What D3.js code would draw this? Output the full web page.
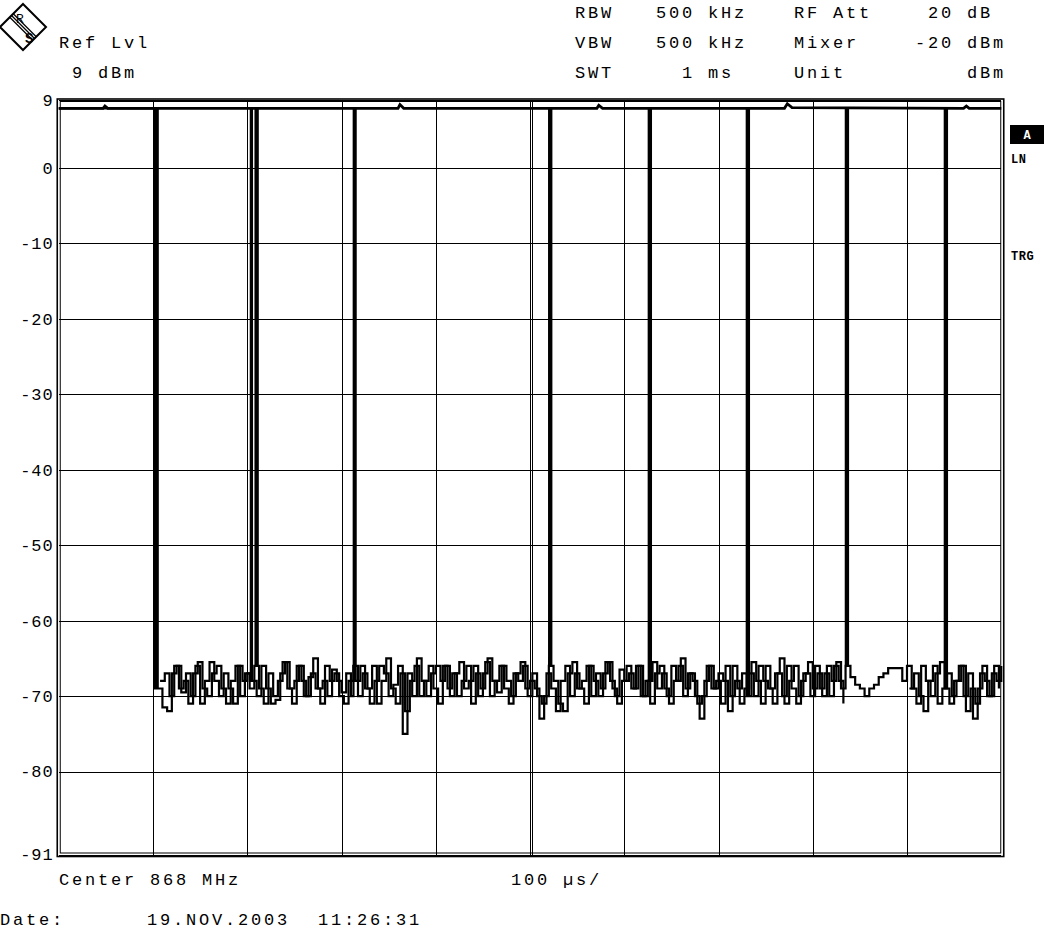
<!DOCTYPE html>
<html>
<head>
<meta charset="utf-8">
<script src="https://cdn.jsdelivr.net/npm/d3@7"></script>
<style>
  body { margin: 0; background: #fff; }
  text { font-family: "Liberation Mono", monospace; fill: #000; white-space: pre; }
</style>
</head>
<body>
<div id="chart"></div>
<script>
// level axis (dBm) and time grid (us)
const yTicks = [9, 0, -10, -20, -30, -40, -50, -60, -70, -80, -91];
const xGridTimes = [100, 200, 300, 400, 500, 600, 700, 800, 900];

// upper trace, held near the reference level
const topTimes = [0, 47, 49, 52, 360, 362, 366, 571, 573, 577, 770, 773, 778, 960, 963, 966, 1000];
const topValues = [7.9, 7.9, 8.2, 7.9, 7.9, 8.4, 7.9, 7.9, 8.3, 7.9, 7.9, 8.5, 8.0, 7.9, 8.2, 7.9, 7.9];

// burst edges (us) seen as narrow spikes in the lower trace
const pulseTimes = [102.7, 203.5, 312.7, 520, 625.7, 729.7, 834.8, 939.8];
const pulseTimesB = [208.5];
const pulseLevel = 7.9;

// noise floor, trace A: 105 us .. 1000 us, every 5 us
const noiseStartA = 105;
const noiseA = [
  -69, -71.5, -72, -67, -66, -69.5, -67, -70, -66, -71, -68, -65.5, -68, -70, -67, -69, -71, -66, -68, -67,
  -68, -70, -66, -69, -71, -70.5, -67, -65.5, -69, -68, -66, -70, -67.5, -65, -69, -68, -70, -66.5, -68, -69.5,
  -67, -70, -68, -66, -69, -71, -68, -66, -67, -70, -68.5, -66, -75, -67, -70, -65, -68, -70, -67, -66,
  -68, -66, -70, -67, -65.5, -69, -68, -66, -70, -67, -65, -68, -69.5, -66, -68, -70, -67, -65.5, -69, -68,
  -69, -73, -70, -66, -68, -71, -72, -67, -65.5, -69, -68, -66, -70, -67, -69, -65.5, -68, -70, -66.5, -68,
  -67, -69, -66, -70, -68, -65.5, -69, -67, -70, -66, -68, -65, -69, -67, -70, -73, -68, -66, -69, -67,
  -68, -72, -66, -69, -67, -70, -65.5, -68, -71, -66, -69, -67, -65, -71, -68, -66, -70, -67, -65.5, -69,
  -67, -70, -66, -68, -65.5, -69, -66, -67.5, -68.5, -69, -70, -69, -68.5, -67.5, -67, -66.3, -66.3, -66.3, -68, -66,
  -69, -71, -66, -68, -70, -67, -65.5, -69, -71, -68, -66, -70, -67, -73, -69, -66, -70, -67, -68, -66
];

// noise floor, trace B: 107.5 us .. 997.5 us, every 5 us (gap while quiet)
const noiseStartB = 107.5;
const noiseB = [
  -68, -67, -70, -66, -69, -68, -71, -67, -65.5, -69, -70, -67, -66, -69, -71, -68, -66, -70, -67, -69,
  -66, -69, -71, -67, -70, -68, -65.5, -69, -71, -66, -68, -70, -67, -69, -71, -66, -68, -67, -70, -71,
  -68, -66, -70, -67, -69, -66, -71, -68, -65, -69, -71, -67, -72, -68, -66, -70, -68, -66, -69, -71,
  -66, -69, -67, -70, -68, -66, -71, -67, -69, -65.5, -70, -68, -66, -69, -71, -67, -68, -66, -70, -67,
  -70, -71, -67, -69, -72, -68, -66, -70, -67, -69, -71, -66, -68, -70, -67, -65.5, -69, -71, -68, -66,
  -69, -66, -70, -68, -71, -67, -66, -69, -71, -68, -66, -70, -67, -68, -71, -70, -66, -69, -68, -71,
  -66, -70, -68, -71, -69, -67, -70, -66, -68, -69, -71, -67, -70, -66, -69, -71, -68, -67, -70, -66,
  -69, -67, -70, -66, -68, -71, null, null, null, null, null, null, null, null, null, null, null, null, null, -69,
  -67, -70, -72, -68, -66, -71, -69, -67, -70, -68, -66, -72, -69, -71, -67, -68, -70, -66, -69
];

const headerRows = [
  ['RBW', '500 kHz', 'RF Att', ' 20 dB'],
  ['VBW', '500 kHz', 'Mixer', '-20 dBm'],
  ['SWT', '  1 ms', 'Unit', '    dBm']
];

const W = 1058, H = 931;
const svg = d3.select('#chart').append('svg')
  .attr('width', W).attr('height', H)
  .style('display', 'block');

const x = d3.scaleLinear().domain([0, 1000]).range([58.75, 1001.25]);
const y = d3.scaleLinear().domain([-91, 9]).range([854.5, 100]);
const plotW = x(1000) - x(0);
const plotH = y(-91) - y(9);

const fontSize = 17;
const spacing = 2.8;

// header text
const header = svg.append('g')
  .style('font-size', fontSize + 'px')
  .style('letter-spacing', spacing + 'px');

header.append('text').attr('x', 59).attr('y', 48).text('Ref Lvl');
header.append('text').attr('x', 72).attr('y', 78).text('9 dBm');

const colX = [575, 656, 794, 915];
const rowY = [18, 48, 78];
headerRows.forEach((row, i) => {
  row.forEach((s, j) => {
    header.append('text').attr('x', colX[j]).attr('y', rowY[i]).text(s);
  });
});

// R&S logo
const logo = svg.append('g').attr('transform', 'translate(23,27)');
logo.append('polygon')
  .attr('points', '0,-23 23,0 0,23 -23,0')
  .attr('fill', 'none').attr('stroke', '#000').attr('stroke-width', 2);
[-2.5, 0, 2.5].forEach((o) => {
  logo.append('line')
    .attr('x1', -11.5 + o * 0.7).attr('y1', -11.5 - o * 0.7)
    .attr('x2', 11.5 + o * 0.7).attr('y2', 11.5 - o * 0.7)
    .attr('stroke', '#000').attr('stroke-width', 1.2);
});
logo.append('text').attr('x', -7).attr('y', -4).style('font-size', '13px').text('R');
logo.append('text').attr('x', 2).attr('y', 16).style('font-size', '14px').style('font-weight', 'bold').text('S');

// grid via axes
const yAxis = svg.append('g')
  .attr('transform', `translate(${x(0)},0)`)
  .call(d3.axisLeft(y)
    .tickValues(yTicks)
    .tickSize(-plotW)
    .tickPadding(5)
    .tickFormat((d) => String(d)));
yAxis.select('.domain').remove();
yAxis.selectAll('line').attr('stroke', '#000').attr('stroke-width', 1).attr('shape-rendering', 'crispEdges');
yAxis.selectAll('text')
  .attr('font-family', null)
  .style('font-size', fontSize + 'px')
  .style('letter-spacing', '1px')
  .attr('fill', '#000');

const xAxis = svg.append('g')
  .attr('transform', `translate(0,${y(-91)})`)
  .call(d3.axisBottom(x)
    .tickValues(xGridTimes)
    .tickSize(-plotH)
    .tickFormat(''));
xAxis.select('.domain').remove();
xAxis.selectAll('line').attr('stroke', '#000').attr('stroke-width', 1).attr('shape-rendering', 'crispEdges');

// centre line is drawn doubled on the instrument
svg.append('line')
  .attr('x1', x(500) + 2.5).attr('x2', x(500) + 2.5)
  .attr('y1', y(9)).attr('y2', y(-91))
  .attr('stroke', '#000').attr('stroke-width', 1).attr('shape-rendering', 'crispEdges');

// double frame
svg.append('rect')
  .attr('x', x(0) - 1.5).attr('y', y(9) - 1)
  .attr('width', plotW + 4).attr('height', plotH + 3)
  .attr('fill', 'none').attr('stroke', '#000').attr('stroke-width', 1.6);
svg.append('rect')
  .attr('x', x(0) + 1.5).attr('y', y(9) + 1.5)
  .attr('width', plotW - 2).attr('height', plotH - 3)
  .attr('fill', 'none').attr('stroke', '#000').attr('stroke-width', 1);

// traces
const stepLine = d3.line()
  .defined((d) => d.v !== null)
  .curve(d3.curveStepAfter)
  .x((d) => x(d.t))
  .y((d) => y(d.v));
const plainLine = d3.line()
  .x((d) => x(d.t))
  .y((d) => y(d.v));

function buildNoise (start, values, pulses, lead) {
  const pts = values.map((v, i) => ({ t: start + i * 5, v }));
  pulses.forEach((pt) => {
    const near = pts.reduce((a, b) => (Math.abs(b.t - pt) < Math.abs(a.t - pt) && b.v !== null ? b : a));
    pts.push({ t: pt, v: near.v });
    pts.push({ t: pt + 0.3, v: pulseLevel });
    pts.push({ t: pt + 2.6, v: near.v });
  });
  pts.sort((a, b) => a.t - b.t);
  return lead.concat(pts.filter((p) => p.t <= 1000));
}

// trace A starts high, falls at the first edge, then shows the noise floor
const traceA = buildNoise(noiseStartA, noiseA, pulseTimes, [
  { t: 0, v: pulseLevel },
  { t: pulseTimes[0] - 1.5, v: noiseA[0] }
]);
const traceB = buildNoise(noiseStartB, noiseB, pulseTimesB, []);
const traceTop = topTimes.map((t, i) => ({ t, v: topValues[i] }));

const traces = svg.append('g').attr('fill', 'none').attr('stroke', '#000').attr('stroke-linejoin', 'miter');
traces.append('path').datum(traceB).attr('d', stepLine).attr('stroke-width', 2.2);
traces.append('path').datum(traceA).attr('d', stepLine).attr('stroke-width', 2.2);
traces.append('path').datum(traceTop).attr('d', plainLine).attr('stroke-width', 2.8);

// right side indicators
svg.append('rect').attr('x', 1010).attr('y', 125).attr('width', 34).attr('height', 19).attr('fill', '#000');
svg.append('text').attr('x', 1027).attr('y', 139).attr('text-anchor', 'middle')
  .style('font-size', '12px').style('font-weight', 'bold').style('fill', '#fff').text('A');
svg.append('text').attr('x', 1011).attr('y', 163)
  .style('font-size', '12px').style('font-weight', 'bold').style('letter-spacing', '0.5px').text('LN');
svg.append('text').attr('x', 1011).attr('y', 260)
  .style('font-size', '12px').style('font-weight', 'bold').style('letter-spacing', '0.5px').text('TRG');

// footer
const footer = svg.append('g')
  .style('font-size', fontSize + 'px')
  .style('letter-spacing', spacing + 'px');
footer.append('text').attr('x', 59).attr('y', 885).text('Center 868 MHz');
footer.append('text').attr('x', 511).attr('y', 885).text('100 µs/');
footer.append('text').attr('x', 0).attr('y', 925).text('Date:');
footer.append('text').attr('x', 147).attr('y', 925).text('19.NOV.2003');
footer.append('text').attr('x', 318).attr('y', 925).text('11:26:31');
</script>
</body>
</html>
